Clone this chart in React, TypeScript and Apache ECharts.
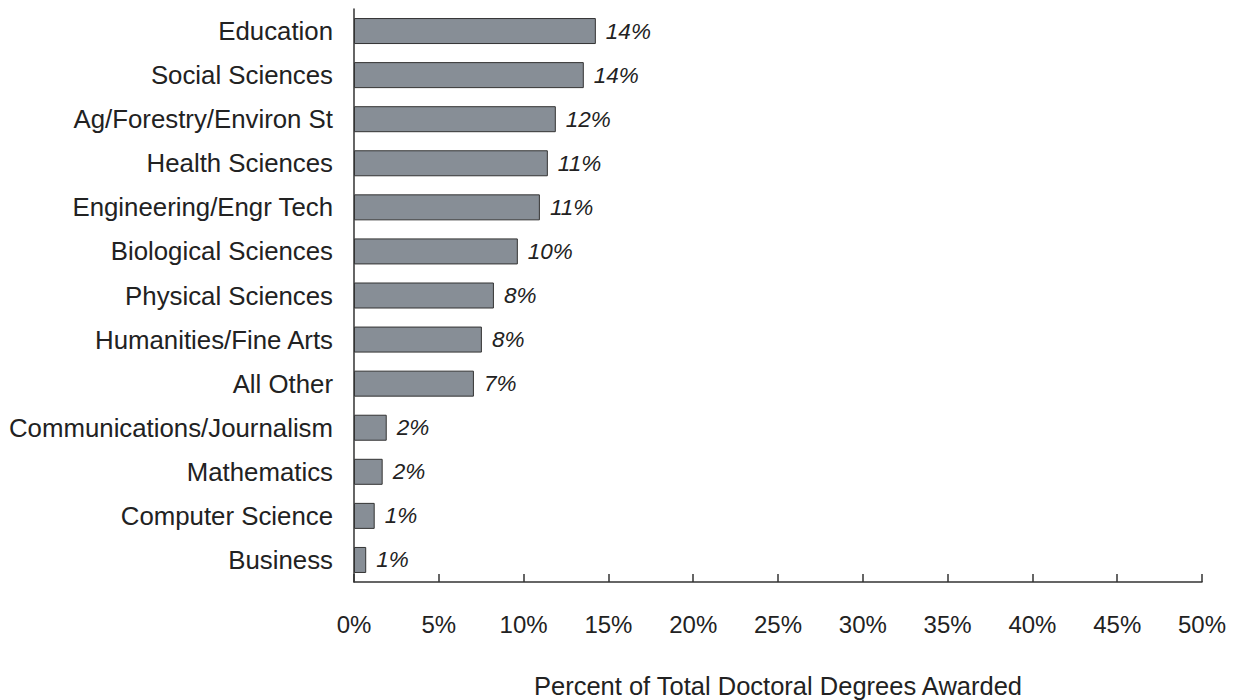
import React, { useEffect, useRef } from "react";
import * as echarts from "echarts";

const categories = [
  "Education",
  "Social Sciences",
  "Ag/Forestry/Environ St",
  "Health Sciences",
  "Engineering/Engr Tech",
  "Biological Sciences",
  "Physical Sciences",
  "Humanities/Fine Arts",
  "All Other",
  "Communications/Journalism",
  "Mathematics",
  "Computer Science",
  "Business",
];

const values = [14.26, 13.55, 11.9, 11.43, 10.96, 9.66, 8.25, 7.54, 7.07, 1.93, 1.69, 1.22, 0.72];

const xTicks = [0, 5, 10, 15, 20, 25, 30, 35, 40, 45, 50];

const axisTitle = "Percent of Total Doctoral Degrees Awarded";

export default function App() {
  const ref = useRef<HTMLDivElement>(null);

  useEffect(() => {
    if (!ref.current) return;
    const chart = echarts.init(ref.current, null, { renderer: "svg" });
    const font = "'Liberation Sans', Arial, Helvetica, sans-serif";
    chart.setOption({
      animation: false,
      backgroundColor: "#ffffff",
      grid: {
        left: 354,
        right: 32,
        top: 9,
        bottom: 118,
        containLabel: false,
        outerBoundsMode: "none",
      },
      xAxis: {
        type: "value",
        min: xTicks[0],
        max: xTicks[xTicks.length - 1],
        interval: 5,
        splitLine: { show: false },
        axisLine: { show: true, lineStyle: { color: "#333333", width: 1.5 } },
        axisTick: { show: true, inside: true, length: 8, lineStyle: { color: "#333333", width: 1.5 } },
        axisLabel: {
          formatter: (v: number) => `${v}%`,
          color: "#222222",
          fontSize: 24,
          fontFamily: font,
          margin: 30,
        },
        name: axisTitle,
        nameLocation: "middle",
        nameGap: 91,
        nameTextStyle: { color: "#222222", fontSize: 25.5, fontFamily: font },
      },
      yAxis: {
        type: "category",
        data: categories,
        inverse: true,
        axisLine: { show: true, lineStyle: { color: "#333333", width: 1.5 } },
        axisTick: { show: false },
        splitLine: { show: false },
        axisLabel: {
          color: "#222222",
          fontSize: 25.8,
          fontFamily: font,
          margin: 21,
          padding: [6, 0, 0, 0],
        },
      },
      series: [
        {
          type: "bar",
          data: values,
          barWidth: 26,
          itemStyle: { color: "#878E96", borderColor: "#333333", borderWidth: 1 },
          label: {
            show: true,
            position: "right",
            distance: 10,
            formatter: (p: any) => `${Math.round(p.value)}%`,
            color: "#222222",
            fontSize: 22.5,
            fontStyle: "italic",
            fontFamily: font,
          },
        },
      ],
    });
    return () => chart.dispose();
  }, []);

  return (
    <div
      ref={ref}
      style={{ position: "absolute", left: 0, top: 0, width: 1234, height: 700 }}
    />
  );
}
